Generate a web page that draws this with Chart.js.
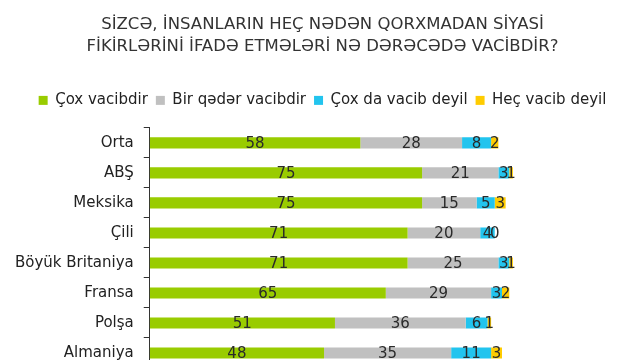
<!DOCTYPE html>
<html>
<head>
<meta charset="utf-8">
<script src="https://cdn.jsdelivr.net/npm/chart.js@4"></script>
<style>
  html, body { margin: 0; padding: 0; background: #fff; overflow: hidden; }
  canvas { display: block; }
</style>
</head>
<body>
<canvas id="chart" width="640" height="387"></canvas>
<script>
const countries = ["Orta", "ABŞ", "Meksika", "Çili", "Böyük Britaniya", "Fransa", "Polşa", "Almaniya"];
const coxVacib = [58, 75, 75, 71, 71, 65, 51, 48];
const birQeder = [28, 21, 15, 20, 25, 29, 36, 35];
const coxDaDeyil = [8, 3, 5, 4, 3, 3, 6, 11];
const hecDeyil = [2, 1, 3, 0, 1, 2, 1, 3];

const seriesNames = ["Çox vacibdir", "Bir qədər vacibdir", "Çox da vacib deyil", "Heç vacib deyil"];
const seriesColors = ["#99cc00", "#c0c0c0", "#22c4ee", "#ffcc00"];

// yazıları seqmentlərin ortasına qoyur
const valueLabels = {
  id: "valueLabels",
  afterDatasetsDraw(chart) {
    const ctx = chart.ctx;
    ctx.save();
    ctx.font = "15px 'DejaVu Sans'";
    ctx.fillStyle = "#2a2a2a";
    ctx.textAlign = "center";
    ctx.textBaseline = "middle";
    chart.data.datasets.forEach((ds, i) => {
      chart.getDatasetMeta(i).data.forEach((bar, j) => {
        const v = ds.data[j];
        if (v === 0 && i !== 3) return;
        const cx = (bar.x + bar.base) / 2;
        ctx.fillText(String(v), cx, bar.y + 1);
      });
    });
    ctx.restore();
  }
};

// legend ilə qrafik arasında boşluq
const legendGap = {
  id: "legendGap",
  beforeInit(chart) {
    const fit = chart.legend.fit;
    chart.legend.fit = function () {
      fit.bind(chart.legend)();
      this.height += 10;
    };
  }
};

new Chart(document.getElementById("chart"), {
  type: "bar",
  data: {
    labels: countries,
    datasets: [coxVacib, birQeder, coxDaDeyil, hecDeyil].map((d, i) => ({
      label: seriesNames[i],
      data: d,
      backgroundColor: seriesColors[i],
      barPercentage: 0.37,
      categoryPercentage: 1
    }))
  },
  options: {
    indexAxis: "y",
    responsive: false,
    animation: false,
    layout: { padding: { left: 5, right: 0, top: 0, bottom: 5 } },
    scales: {
      x: { stacked: true, min: 0, max: 135, display: false },
      y: {
        stacked: true,
        border: { display: true, color: "#333", width: 1 },
        grid: { drawOnChartArea: false, tickLength: 6, color: "#333", offset: true },
        ticks: { color: "#222", font: { family: "DejaVu Sans", size: 15 }, padding: 10 }
      }
    },
    plugins: {
      title: {
        display: true,
        text: ["SİZCƏ, İNSANLARIN HEÇ NƏDƏN QORXMADAN SİYASİ", "FİKİRLƏRİNİ İFADƏ ETMƏLƏRİ NƏ DƏRƏCƏDƏ VACİBDİR?"],
        color: "#333",
        font: { family: "DejaVu Sans", size: 16.5, weight: "normal", lineHeight: 1.33 },
        padding: { top: 14, bottom: 27 }
      },
      legend: {
        position: "top",
        labels: {
          color: "#222",
          font: { family: "DejaVu Sans", size: 15 },
          boxWidth: 9,
          boxHeight: 9,
          padding: 8
        }
      },
      tooltip: { enabled: false }
    }
  },
  plugins: [valueLabels, legendGap]
});
</script>
</body>
</html>
